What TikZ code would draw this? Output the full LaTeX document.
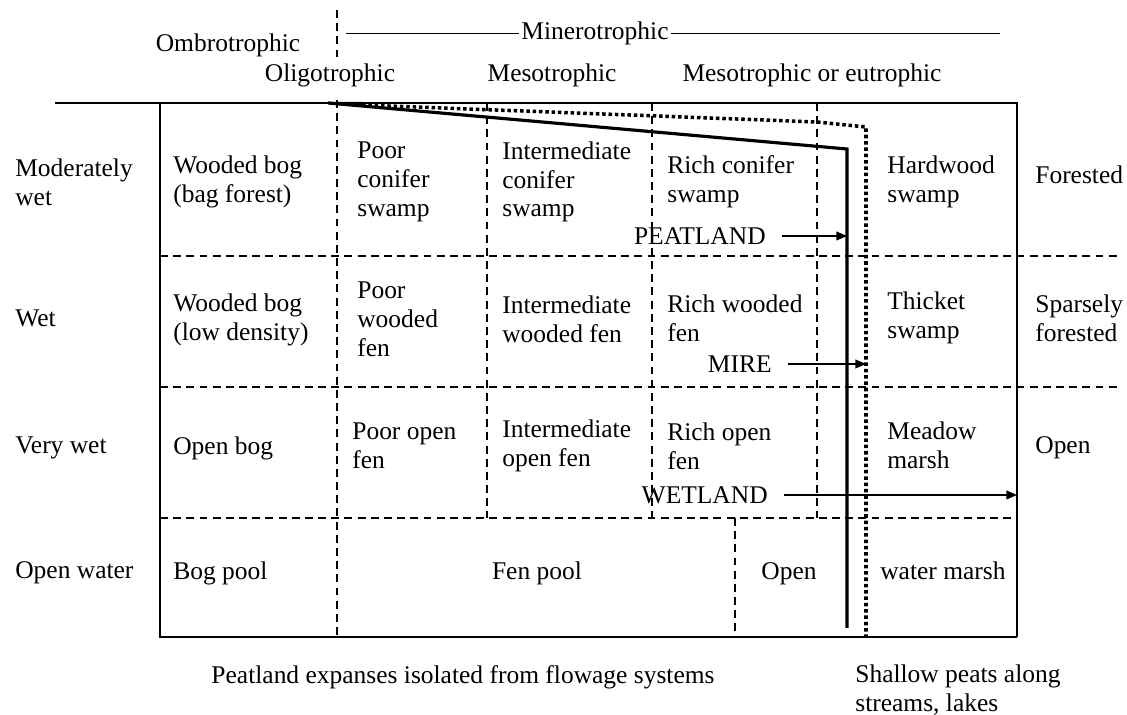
\documentclass[tikz,border=0pt]{standalone}
\usepackage{fontspec}
\setmainfont{Liberation Serif}
\usetikzlibrary{arrows.meta}
\begin{document}
\begin{tikzpicture}[x=0.02cm, y=-0.02cm,
    txt/.style={font=\fontsize{14.5}{16.4}\selectfont, inner sep=0pt},
    cell/.style={txt, anchor=west, align=left},
    grid/.style={dash pattern=on 4.5pt off 3pt, line width=0.75pt},
    frame/.style={line width=1.1pt},
    peat/.style={line width=1.8pt},
    mire/.style={line width=2pt, dash pattern=on 2pt off 1.6pt},
    pointer/.style={line width=0.7pt, shorten <=9pt, -{Triangle[length=6pt,width=5pt]}}]
    \useasboundingbox (0,0) rectangle (1127,715);

    % frame and grid
    \draw[frame] (160,103) -- (160,637) -- (1017,637);
    \draw[line width=1.6pt] (55,103) -- (1017,103) -- (1017,637);
    \draw[grid] (337,10) -- (337,60);
    \draw[grid] (337,100) -- (337,637);
    \foreach \x in {487,652,817} {
        \draw[grid] (\x,103) -- (\x,518);
    }
    \draw[grid] (735,518) -- (735,637);
    \foreach \y in {256,387} {
        \draw[grid] (160,\y) -- (1120,\y);
    }
    \draw[grid] (160,518) -- (1017,518);

    % peatland and mire limits
    \draw[peat] (328,103) -- (847,149) -- (847,628);
    \fill (328,102) -- (362,102) -- (362,106.5) -- cycle;
    \draw[mire] (362,105) -- (817,122) -- (866,127) -- (866,637);

    % headings
    \node[txt] (ombro) at (228,45) {Ombrotrophic};
    \node[txt, inner xsep=1pt] (minero) at (595,33) {Minerotrophic};
    \coordinate (minleft) at (346,33);
    \coordinate (minright) at (1000,33);
    \draw[line width=0.5pt] (minleft) -- (minero);
    \draw[line width=0.5pt] (minero) -- (minright);
    \node[txt] (oligo) at (330,75) {Oligotrophic};
    \node[txt] (meso) at (552,75) {Mesotrophic};
    \node[txt] (eutro) at (812,75) {Mesotrophic or eutrophic};

    % row labels
    \node[cell] (modwet) at (15,182) {Moderately\\wet};
    \node[cell] (wet) at (15,318) {Wet};
    \node[cell] (verywet) at (15,448) {Very wet};
    \node[cell] (openwater) at (15,573) {Open water};
    \node[cell] (forested) at (1035,175) {Forested};
    \node[cell] (sparse) at (1035,318) {Sparsely\\forested};
    \node[cell] (open) at (1035,448) {Open};

    % cells
    \node[cell] (bogforest) at (173,182) {Wooded bog\\(bag forest)};
    \node[cell] (poorswamp) at (357,182) {Poor\\conifer\\swamp};
    \node[cell] (interswamp) at (502,182) {Intermediate\\conifer\\swamp};
    \node[cell] (richswamp) at (667,182) {Rich conifer\\swamp};
    \node[cell] (hardwood) at (887,182) {Hardwood\\swamp};

    \node[cell] (boglow) at (173,320) {Wooded bog\\(low density)};
    \node[cell] (poorwooded) at (357,319) {Poor\\wooded\\fen};
    \node[cell] (interwooded) at (502,319) {Intermediate\\wooded fen};
    \node[cell] (richwooded) at (667,318) {Rich wooded\\fen};
    \node[cell] (thicket) at (887,318) {Thicket\\swamp};

    \node[cell] (openbog) at (173,448) {Open bog};
    \node[cell] (pooropen) at (352,446) {Poor open\\fen};
    \node[cell] (interopen) at (502,446) {Intermediate\\open fen};
    \node[cell] (richopen) at (667,446) {Rich open\\fen};
    \node[cell] (meadow) at (887,445) {Meadow\\marsh};

    \node[cell] (bogpool) at (173,573) {Bog pool};
    \node[txt] (fenpool) at (537,573) {Fen pool};
    \node[txt] (openpool) at (789,574) {Open};
    \node[cell] (watermarsh) at (880,571) {water marsh};

    % limits named
    \node[txt, anchor=east] (peatland) at (766,236) {PEATLAND};
    \coordinate (peatend) at (847,236);
    \draw[pointer] (peatland) -- (peatend);
    \node[txt, anchor=east] (mire) at (772,364) {MIRE};
    \coordinate (mireend) at (866,364);
    \draw[pointer] (mire) -- (mireend);
    \node[txt, anchor=east] (wetland) at (768,495) {WETLAND};
    \coordinate (wetend) at (1017,495);
    \draw[pointer] (wetland) -- (wetend);

    % bottom notes
    \node[txt] (isolated) at (463,677) {Peatland expanses isolated from flowage systems};
    \node[cell] (shallow) at (855,690) {Shallow peats along\\streams, lakes};
\end{tikzpicture}
\end{document}
